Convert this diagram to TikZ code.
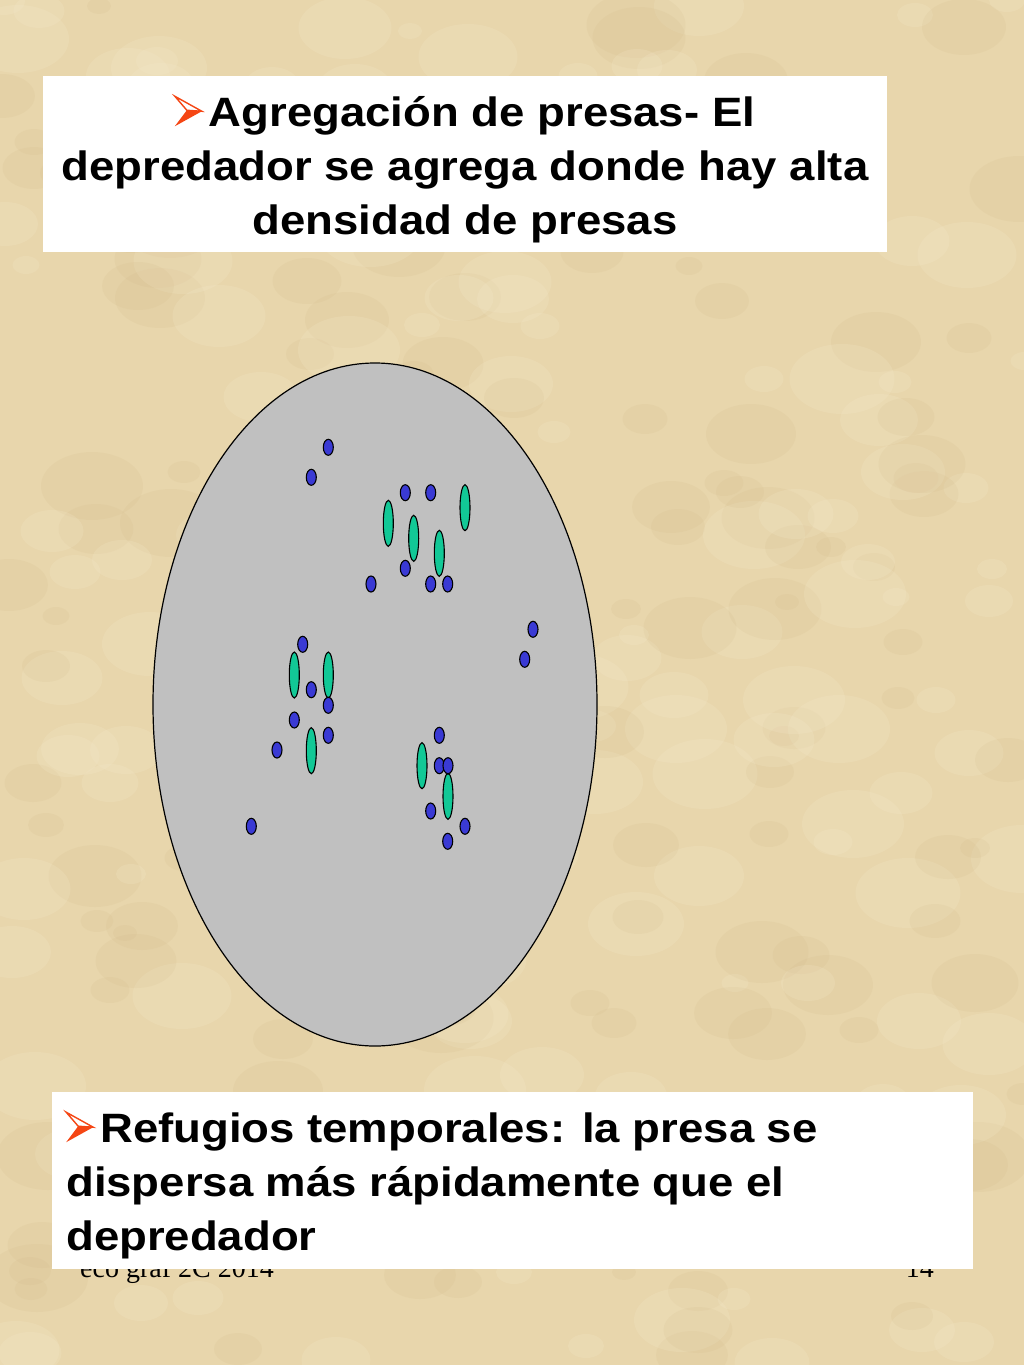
\documentclass[tikz,border=0pt]{standalone}
\usepackage{fontspec}
\setmainfont{Liberation Sans}
\newfontfamily\boxfont{Liberation Sans}[FakeStretch=1.11]
\newfontfamily\footfont{Liberation Serif}
\usetikzlibrary{shapes.geometric}
\definecolor{parch}{RGB}{232,214,172}
\definecolor{parchdark}{RGB}{205,180,130}
\definecolor{parchlight}{RGB}{245,234,205}
\definecolor{ovalgray}{RGB}{192,192,192}
\definecolor{preyblue}{RGB}{58,58,212}
\definecolor{predgreen}{RGB}{18,200,150}
\definecolor{bulred}{RGB}{245,70,20}
\newcommand{\bul}{\tikz[x=1pt,y=1pt,baseline=0pt,line join=miter]{%
  \path[use as bounding box] (0,0) rectangle (34,30);
  \fill[bulred] (12,16) -- (27,15) -- (0,0) -- cycle;
  \draw[bulred,line width=1.4pt] (0,30) -- (27,15) -- (12,16) -- cycle;}}
\tikzset{
  bdot/.style={ellipse,draw=black,line width=1.1pt,fill=preyblue,minimum width=10pt,minimum height=16pt,inner sep=0pt},
  gdot/.style={ellipse,draw=black,line width=1.1pt,fill=predgreen,minimum width=10pt,minimum height=46pt,inner sep=0pt},
  textbox/.style={fill=white,draw=none},
  boxtext/.style={font=\boxfont\fontsize{41}{54}\selectfont\bfseries,text=black,inner sep=0pt},
  foot/.style={font=\footfont\fontsize{28}{30}\selectfont,text=black,inner sep=0pt,anchor=base west}
}
\begin{document}
\begin{tikzpicture}[x=1pt,y=-1pt]
\useasboundingbox (0,0) rectangle (1024,1365);
% background with mottled texture
\fill[parch] (0,0) rectangle (1024,1365);
\pgfmathsetseed{12345}
\foreach \i in {1,...,320}{
  \pgfmathsetmacro{\cx}{random(0,1024)}
  \pgfmathsetmacro{\cy}{random(0,1365)}
  \pgfmathsetmacro{\r}{random(8,35)}
  \pgfmathtruncatemacro{\k}{random(0,1)}
  \ifnum\k=0
    \fill[parchdark,opacity=0.12] (\cx,\cy) ellipse ({\r*1.5} and \r);
  \else
    \fill[parchlight,opacity=0.2] (\cx,\cy) ellipse ({\r*1.5} and \r);
  \fi
}
% footer (partly hidden by the lower box)
\node[foot] (footl) at (80,1277) {eco graf 2C 2014};
\node[foot,anchor=base east] (footr) at (934,1277) {14};
% top text box
\fill[textbox] (43,76) rectangle (887,252);
\node[boxtext,align=center,anchor=north] (title) at (465,96)
  {\bul Agregación de presas- El\\depredador se agrega donde hay alta\\densidad de presas};
% oval
\node[ellipse,draw=black,line width=1.2pt,fill=ovalgray,minimum width=444pt,minimum height=683pt,inner sep=0pt] (oval) at (375,704.5) {};
% predators (green)
\foreach \n/\x/\y in {g1/388.3/523.3,g2/413.7/538.3,g3/439.3/553.3,g4/465/507.7,g5/294.3/675,g6/328.3/675,g7/311.3/750.7,g8/422/765.7,g9/448/796.3}{
  \node[gdot] (\n) at (\x,\y) {};
}
% prey (blue)
\foreach \n/\x/\y in {b1/328.3/447.3,b2/311.3/477.3,b3/405.3/492.7,b4/430.7/492.7,b5/405.3/568.3,b6/371/584,b7/430.7/584,b8/447.7/584,b9/533/629.3,b10/524.7/659.3,b11/302.7/644.3,b12/311.3/689.7,b13/328.3/705.3,b14/294.3/720,b15/328.3/735.3,b16/277/750,b17/251.3/826.3,b18/439.3/735.3,b19/439.3/765.7,b20/448/765.7,b21/430.7/811,b22/465/826.3,b23/447.7/841.3}{
  \node[bdot] (\n) at (\x,\y) {};
}
% bottom text box
\fill[textbox] (52,1092) rectangle (973,1269);
\node[boxtext,align=left,anchor=north west] (refug) at (66,1112)
  {\bul Refugios temporales: la presa se\\dispersa más rápidamente que el\\depredador};
\end{tikzpicture}
\end{document}
